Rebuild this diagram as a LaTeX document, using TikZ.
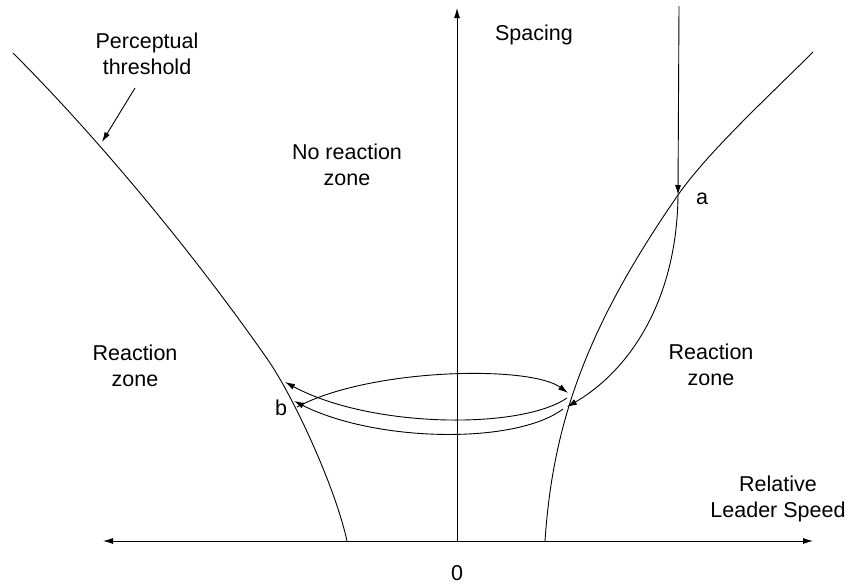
\documentclass[tikz,border=0pt]{standalone}
\usepackage{fontspec}
\setmainfont{Liberation Sans}
\usetikzlibrary{arrows.meta}
\begin{document}
\begin{tikzpicture}[x=1pt,y=-1pt,
  curve/.style={line width=0.9pt, black},
  tip/.style={-{Latex[length=10pt,width=6pt]}},
  both/.style={{Latex[length=10pt,width=6pt]}-{Latex[length=10pt,width=6pt]}},
  lbl/.style={font=\fontsize{21.5pt}{26pt}\selectfont, inner sep=0pt, align=center, anchor=base}]
\useasboundingbox (0,0) rectangle (852,584);
% key points
\coordinate (org) at (457,541);
\coordinate (axL) at (103,541);
\coordinate (axR) at (813,541);
\coordinate (axT) at (457,8);
\coordinate (vtop) at (679,6);
\coordinate (a) at (678,195);
\coordinate (pA) at (135,88);
\coordinate (pB) at (102,142);
\coordinate (b1) at (285,382);
\coordinate (b2) at (294,401);
\coordinate (bs) at (297,407);
\coordinate (r1) at (568,393);
\coordinate (r2) at (567,398);
\coordinate (r3) at (563,409);
\coordinate (r4) at (567,407);
\coordinate (ltop) at (13,53);
\coordinate (lmid) at (268,360);
\coordinate (lend) at (347,541);
\coordinate (rtop) at (813,52);
\coordinate (rend) at (545,541);
% axes
\draw[curve,both] (axL) -- (axR);
\draw[curve,tip] (org) -- (axT);
% thresholds
\draw[curve] (ltop) .. controls (98,138) and (195,255) .. (lmid)
  .. controls (293,396) and (335,486) .. (lend);
\draw[curve] (rtop) .. controls (768,97) and (708,152) .. (a)
  .. controls (588,325) and (553,421) .. (rend);
% approach arrow
\draw[curve,tip] (vtop) -- (a);
% lens
\draw[curve,tip] (a) .. controls (677,300) and (630,370) .. (r4);
% oscillation arrows
\draw[curve,tip] (bs) .. controls (370,368) and (530,365) .. (r1);
\draw[curve,tip] (r2) .. controls (520,430) and (370,428) .. (b1);
\draw[curve,tip] (r3) .. controls (515,445) and (375,442) .. (b2);
\draw[curve,tip] (pA) -- (pB);
% labels
\node[lbl] (perc) at (147,74) {Perceptual\\threshold};
\node[lbl] (spacing) at (534,40) {Spacing};
\node[lbl] (norz) at (347,185) {No reaction\\zone};
\node[lbl] (rzl) at (135,386) {Reaction\\zone};
\node[lbl] (rzr) at (711,385) {Reaction\\zone};
\node[lbl] (rls) at (778,517) {Relative\\Leader Speed};
\node[lbl] (la) at (702,204) {a};
\node[lbl] (lb) at (281,415) {b};
\node[lbl] (zero) at (457,580) {0};
\end{tikzpicture}
\end{document}
